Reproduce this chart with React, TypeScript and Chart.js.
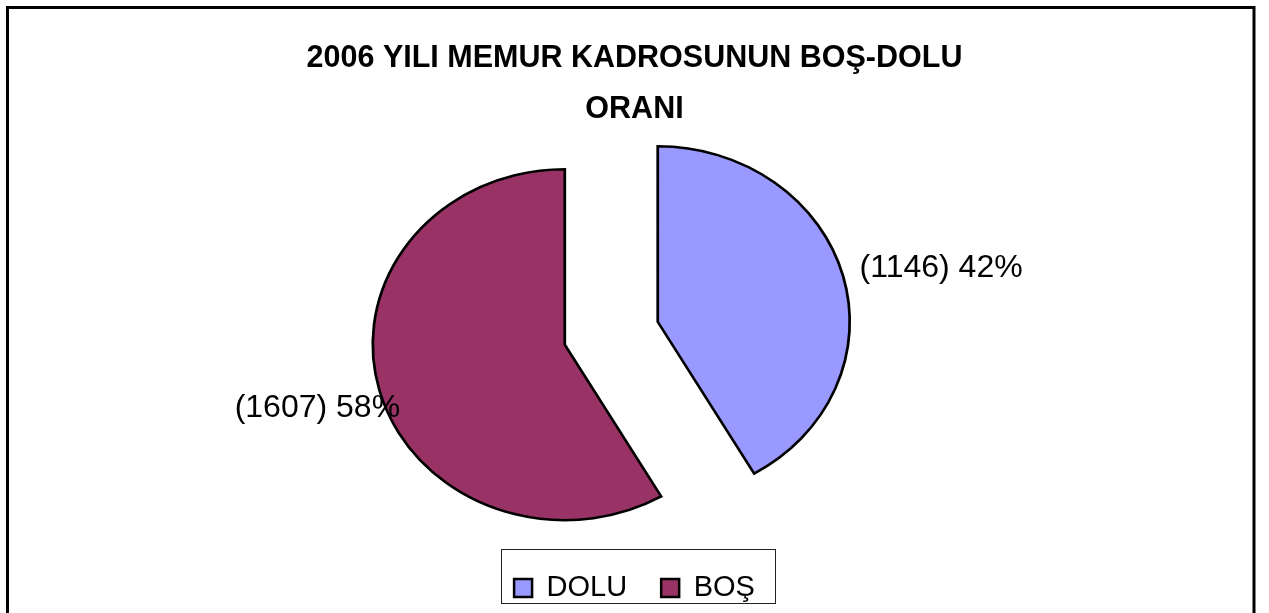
import React, { useEffect, useRef } from "react";
import { Chart, registerables } from "chart.js";

Chart.register(...registerables);

// ---- data ----
const categories = ["DOLU", "BOŞ"];
const counts = [1146, 1607];
const sliceColors = ["#9999FF", "#993366"];
const titleLines = ["2006 YILI MEMUR KADROSUNUN BOŞ-DOLU", "ORANI"];

// ---- styling / layout ----
const FONT = "'Liberation Sans', Arial, Helvetica, sans-serif";
const PIE_RADIUS = 175.5;
const STRETCH_X = 1.094; // pie is drawn slightly wider than tall
const explode = [22, 66]; // per-slice explosion distance
const labelShift: [number, number][] = [
  [98, -8],
  [-62, 18],
];

const total = counts.reduce((a, b) => a + b, 0);
const labelTexts = counts.map((v) => `(${v}) ${Math.round((v / total) * 100)}%`);

const customPlugin = {
  id: "customPie",
  beforeDraw(chart: any) {
    const ctx = chart.ctx;
    ctx.save();
    ctx.fillStyle = "#ffffff";
    ctx.fillRect(0, 0, chart.width, chart.height);
    ctx.strokeStyle = "#000000";
    ctx.lineWidth = 3;
    ctx.strokeRect(7.5, 7.5, 1246.5, chart.height + 40);
    ctx.restore();
  },
  beforeDatasetsDraw(chart: any) {
    const ctx = chart.ctx;
    const meta = chart.getDatasetMeta(0);
    const arcs = meta.data;
    if (!arcs.length) return false;
    const cx = arcs[0].x;
    const cy = arcs[0].y;
    ctx.save();
    ctx.translate(cx, cy);
    ctx.scale(STRETCH_X, 1);
    ctx.translate(-cx, -cy);
    arcs.forEach((arc: any, i: number) => {
      const mid = (arc.startAngle + arc.endAngle) / 2;
      ctx.save();
      ctx.translate(Math.cos(mid) * explode[i], Math.sin(mid) * explode[i]);
      arc.draw(ctx);
      ctx.restore();
    });
    ctx.restore();
    return false;
  },
  afterDraw(chart: any) {
    const ctx = chart.ctx;
    const meta = chart.getDatasetMeta(0);
    const arcs = meta.data;
    ctx.save();
    // data labels
    ctx.font = `32px ${FONT}`;
    ctx.fillStyle = "#000000";
    ctx.textAlign = "center";
    ctx.textBaseline = "middle";
    arcs.forEach((arc: any, i: number) => {
      const mid = (arc.startAngle + arc.endAngle) / 2;
      const d = arc.outerRadius + explode[i];
      const ax = arc.x + STRETCH_X * Math.cos(mid) * d;
      const ay = arc.y + Math.sin(mid) * d;
      ctx.fillText(labelTexts[i], ax + labelShift[i][0], ay + labelShift[i][1]);
    });
    // legend frame
    const boxes = chart.legend?.legendHitBoxes || [];
    if (boxes.length) {
      const first = boxes[0];
      const last = boxes[boxes.length - 1];
      const left = Math.round(first.left - 13.5) + 0.5;
      const right = Math.round(last.left + last.width + 20.5) + 0.5;
      const top = Math.round(first.top - 25) + 0.5;
      const bottom = Math.round(first.top + first.height) + 0.5;
      ctx.strokeStyle = "#222222";
      ctx.lineWidth = 1;
      ctx.strokeRect(left, top, right - left, bottom - top);
    }
    ctx.restore();
  },
};

export default function App() {
  const canvasRef = useRef<HTMLCanvasElement | null>(null);

  useEffect(() => {
    const canvas = canvasRef.current;
    if (!canvas) return;
    const chart = new Chart(canvas, {
      type: "pie",
      data: {
        labels: categories,
        datasets: [
          {
            data: counts,
            backgroundColor: sliceColors,
            borderColor: "#000000",
            borderWidth: 2.5,
            borderJoinStyle: "miter",
          } as any,
        ],
      },
      options: {
        responsive: false,
        animation: false,
        events: [],
        radius: PIE_RADIUS,
        layout: { padding: { left: 0, right: 0, top: 0, bottom: 0.5 } },
        plugins: {
          title: {
            display: true,
            text: titleLines,
            color: "#000000",
            font: { family: FONT, size: 30.5, weight: "bold", lineHeight: 51 / 30.5 },
            padding: { top: 33.5, bottom: -20 },
          },
          legend: {
            display: true,
            position: "bottom",
            labels: {
              boxWidth: 18,
              boxHeight: 18,
              padding: 34,
              color: "#000000",
              font: { family: FONT, size: 29 },
            },
          },
          tooltip: { enabled: false },
        },
      } as any,
      plugins: [customPlugin],
    });
    return () => chart.destroy();
  }, []);

  return (
    <div style={{ position: "fixed", left: 0, top: 0, width: 1269, height: 613, background: "#fff" }}>
      <canvas ref={canvasRef} width={1269} height={613} style={{ display: "block" }} />
    </div>
  );
}
